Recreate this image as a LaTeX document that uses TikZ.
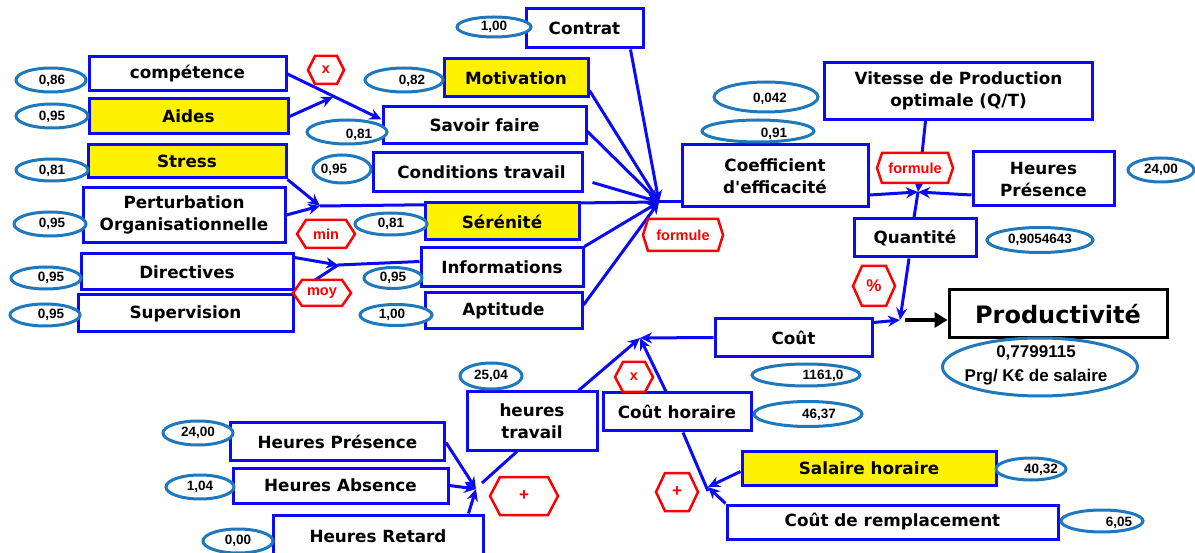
\documentclass[tikz,border=0pt]{standalone}
\usepackage{fontspec}
\setmainfont{DejaVu Sans}
\newfontfamily\arialf{Liberation Sans}
\usetikzlibrary{shapes.geometric,arrows.meta,backgrounds,calc}
\definecolor{boxblue}{RGB}{10,10,245}
\definecolor{ovalblue}{RGB}{30,120,190}
\newcommand\squote{\XeTeXglyph\XeTeXcharglyph"27\relax}
\tikzset{
  box/.style={draw=boxblue, line width=3pt, fill=white, inner sep=0pt, align=center,
    font=\bfseries\fontsize{16.8}{22}\selectfont},
  ybox/.style={box, fill=yellow},
  pbox/.style={box, draw=black, font=\bfseries\fontsize{24}{28}\selectfont},
  oval/.style={ellipse, draw=ovalblue, line width=3pt, inner sep=0pt, fill=white},
  valtext/.style={font=\arialf\bfseries\fontsize{13.5}{15}\selectfont, inner sep=0pt},
  hexline/.style={draw=red, line width=2.5pt, fill=white},
  hextext/.style={text=red, font=\arialf\bfseries\fontsize{14.5}{16}\selectfont, inner sep=0pt},
  conn/.style={draw=boxblue, line width=3pt, -{Stealth[length=12pt,width=11pt]}},
  link/.style={draw=boxblue, line width=3pt},
  bigarrow/.style={draw=black, line width=4.5pt, -{Triangle[length=13pt,width=15pt]}}
}
\newcommand\bx[7]{\node[#6, minimum width=#4pt, minimum height=#5pt] (#1) at (#2,#3) {#7};}
\newcommand\val[8]{\node[oval, minimum width=#4pt, minimum height=#5pt] (#1) at (#2,#3) {};
  \node[valtext] (#1t) at (#2+#6,#3+#7) {#8};}
\newcommand\hexa[7]{\draw[hexline] (#2-#4,#3) -- (#2-#4+#6,#3-#5) -- (#2+#4-#6,#3-#5) -- (#2+#4,#3)
  -- (#2+#4-#6,#3+#5) -- (#2-#4+#6,#3+#5) -- cycle;
  \node[hextext] (#1) at (#2,#3) {#7};}
\begin{document}
\begin{tikzpicture}[x=1pt,y=-1pt]
\useasboundingbox (0,0) rectangle (1195,553);
% boxes
\bx{comp}{187.5}{74}{197}{34}{box}{compétence}
\bx{aides}{188.5}{116.5}{199}{35}{ybox}{Aides}
\bx{stress}{187}{161.5}{198}{33}{ybox}{Stress}
\bx{pert}{184}{215}{202}{55}{box}{Perturbation\\Organisationnelle}
\bx{direc}{187}{272}{212}{36}{box}{Directives}
\bx{superv}{185.5}{313.5}{215}{37}{box}{Supervision}
\bx{contrat}{584.5}{28.5}{117}{39}{box}{Contrat}
\bx{motiv}{516}{78}{144}{38}{ybox}{Motivation}
\bx{savoir}{484.5}{125.5}{203}{37}{box}{Savoir faire}
\bx{cond}{477.5}{172.5}{209}{39}{box}{\hspace*{8pt}Conditions travail}
\bx{seren}{502}{221.5}{154}{37}{ybox}{Sérénité}
\bx{info}{502}{267.5}{162}{39}{box}{Informations}
\bx{apti}{503.5}{311}{157}{36}{box}{Aptitude}
\bx{coef}{775}{176}{186}{62}{box}{Coefficient\\d\squote efficacité}
\bx{vitesse}{958.5}{91}{268}{57}{box}{Vitesse de Production\\optimale (Q/T)}
\bx{hpres1}{1043.5}{179}{141}{54}{box}{Heures\\Présence}
\bx{quant}{915}{238}{122}{38}{box}{Quantité}
\bx{prod}{1058}{314}{218}{48}{pbox}{Productivité}
\bx{cout}{793.5}{337.5}{157}{38}{box}{Coût}
\bx{couth}{677}{412}{148}{38}{box}{Coût horaire}
\bx{htrav}{532}{421}{130}{58}{box}{heures\\travail}
\bx{hpres2}{337.5}{441.5}{214}{37}{box}{Heures Présence}
\bx{habs}{340.5}{485.5}{215}{35}{box}{Heures Absence}
\bx{hret}{378}{536}{210}{42}{box}{Heures Retard}
\bx{salaire}{869}{468.5}{254}{34}{ybox}{Salaire horaire}
\bx{crempl}{892.5}{522}{331}{34}{box}{Coût de remplacement}
% value ovals
\val{o1}{51}{80}{70}{24}{1}{1}{0,86}
\val{o2}{52}{116}{72}{24}{0}{1}{0,95}
\val{o3}{52}{170}{72}{22}{0}{1}{0,81}
\val{o4}{50}{224}{72}{24}{2}{0}{0,95}
\val{o5}{46}{278}{70}{22}{5}{0}{0,95}
\val{o6}{45}{315}{70}{22}{6}{0}{0,95}
\val{o7}{494}{27}{74}{20}{0}{0}{1,00}
\val{o8}{404}{80}{78}{24}{8}{1}{0,82}
\val{o9}{347}{132}{80}{24}{12}{3}{0,81}
\val{o10}{342}{169}{58}{28}{-8}{1}{0,95}
\val{o11}{391}{224}{72}{22}{0}{0}{0,81}
\val{o12}{393}{278}{58}{21}{0}{0}{0,95}
\val{o13}{396}{315}{72}{21}{-4}{0}{1,00}
\val{o14}{758}{131}{112}{22}{16}{3}{0,91}
\val{o15}{766}{97}{104}{30}{4}{2}{0,042}
\val{o16}{1161}{170}{66}{24}{0}{0}{24,00}
\val{o17}{1040}{240}{106}{25}{0}{0}{0,9054643}
\val{o18}{806}{375}{108}{22}{17}{1}{1161,0}
\val{o19}{808}{414}{108}{25}{11}{1}{46,37}
\val{o20}{491}{376}{62}{26}{0}{0}{25,04}
\val{o21}{198}{433}{70}{24}{0}{0}{24,00}
\val{o22}{200}{487}{68}{24}{0}{0}{1,04}
\val{o23}{238}{541}{70}{24}{0}{0}{0,00}
\val{o24}{1031}{469}{70}{22}{10}{1}{40,32}
\val{o25}{1102}{521}{82}{22}{17}{2}{6,05}
\node[oval, minimum width=195pt, minimum height=58pt] (oprod) at (1040,367) {};
\node[font=\arialf\bfseries\fontsize{17}{24}\selectfont, align=center, inner sep=0pt] (oprodt) at (1036,365) {0,7799115\\Prg/ K€ de salaire};
% junctions
\coordinate (jA) at (333,97);
\coordinate (jMin) at (320,206);
\coordinate (jMoy) at (338,265);
\coordinate (jF) at (659,202);
\coordinate (jC) at (918,192);
\coordinate (jQ) at (900,320);
\coordinate (jCo) at (640,338);
\coordinate (jS) at (708,487);
\coordinate (jH) at (476,489);
% connectors
\begin{scope}[on background layer]
\draw[conn] (comp.east) -- ([yshift=6pt]savoir.west);
\draw[conn] (aides.east) -- (jA);
\draw[conn] (stress.south east) -- (jMin);
\draw[conn] (pert.east) -- (jMin);
\draw[link] (jMin) -- (jF);
\draw[conn] ([yshift=-5pt]direc.north east) -- (jMoy);
\draw[link] (superv.north east) -- (jMoy);
\draw[link] (jMoy) -- ([yshift=6pt]info.west);
\draw[conn] ([xshift=-14pt]contrat.south east) -- (jF);
\draw[conn] ([yshift=8pt]motiv.south east) -- (jF);
\draw[conn] ([yshift=-6pt]savoir.east) -- (jF);
\draw[conn] ([xshift=9pt,yshift=-10pt]cond.east) -- (jF);
\draw[conn] (info.north east) -- (jF);
\draw[conn] ([yshift=6pt]apti.east) -- (jF);
\draw[link] (jF) -- ([yshift=-26pt]coef.west);
\draw[conn] ([yshift=-19pt]coef.east) -- (jC);
\draw[conn] ([yshift=-16pt]hpres1.west) -- (jC);
\draw[conn] ([xshift=-33pt]vitesse.south) -- (jC);
\draw[link] (jC) -- ([xshift=-1pt]quant.north);
\draw[conn] ([xshift=-6pt]quant.south) -- (jQ);
\draw[conn] ([yshift=15pt]cout.east) -- (jQ);
\draw[conn] (cout.west) -- (jCo);
\draw[conn] ([xshift=-20pt]htrav.north east) -- (jCo);
\draw[conn] ([xshift=-11pt]couth.north) -- (jCo);
\draw[conn] ([yshift=-3pt]salaire.west) -- (jS);
\draw[conn] (crempl.north west) -- (jS);
\draw[link] ([yshift=-4pt]jS) -- ([xshift=6pt]couth.south);
\draw[conn] ([yshift=-1pt]hpres2.east) -- (jH);
\draw[conn] (habs.east) -- (jH);
\draw[conn] ([xshift=-16pt]hret.north east) -- (jH);
\draw[link] ([xshift=6pt,yshift=6pt]jH) -- ([xshift=-15pt]htrav.south);
\end{scope}
\draw[bigarrow] ([xshift=5pt]jQ) -- ([yshift=-6pt]prod.west);
% operator hexagons
\hexa{hx1}{326}{70}{18}{14}{7}{x}
\hexa{hmin}{326}{234}{29}{14}{9}{min}
\hexa{hmoy}{322}{293}{29}{13}{9}{moy}
\hexa{hf1}{683}{235}{40}{16}{5}{formule}
\hexa{hf2}{915}{168}{38}{15}{5}{formule}
\hexa{hpct}{874}{286}{21}{20}{9}{\fontsize{17}{18}\selectfont\%}
\hexa{hx2}{634}{377}{19}{15}{8}{x}
\hexa{hp1}{524}{496}{34}{19}{10}{\fontsize{17}{18}\selectfont +}
\hexa{hp2}{677}{492}{21}{19}{9}{\fontsize{17}{18}\selectfont +}
\end{tikzpicture}
\end{document}
